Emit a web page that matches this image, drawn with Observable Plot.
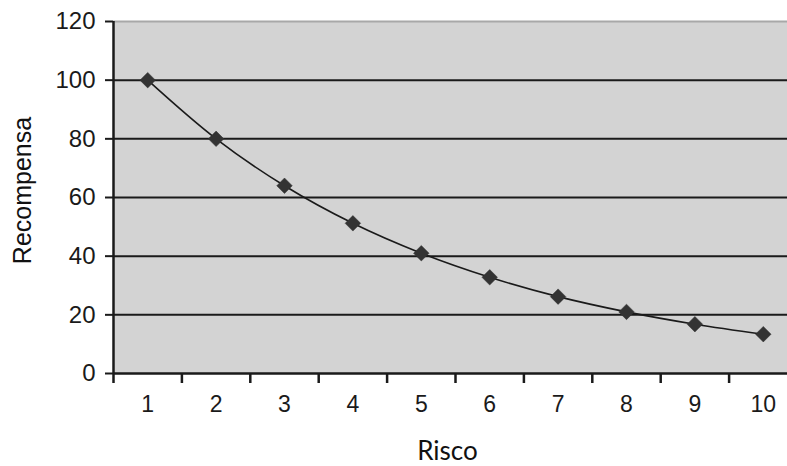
<!DOCTYPE html>
<html>
<head>
<meta charset="utf-8">
<script src="https://cdn.jsdelivr.net/npm/d3@7"></script>
<script src="https://cdn.jsdelivr.net/npm/@observablehq/plot@0.6"></script>
<style>
  html, body { margin: 0; padding: 0; background: #fff; }
  svg { display: block; }
</style>
</head>
<body>
<div id="chart"></div>
<script>
const risco = [1, 2, 3, 4, 5, 6, 7, 8, 9, 10];
const recompensa = [100, 80, 64, 51.2, 41, 32.8, 26.2, 21, 16.8, 13.4];
const yTicks = [0, 20, 40, 60, 80, 100, 120];
const xLabel = "Risco";
const yLabel = "Recompensa";

const data = risco.map((r, i) => ({ x: r, y: recompensa[i] }));
const bandEdges = d3.range(0.5, 11, 1);
const font = "'Liberation Sans', Arial, sans-serif";
const ink = "#1a1a1a";

const chart = Plot.plot({
  width: 787,
  height: 466,
  marginLeft: 113,
  marginRight: -10,
  marginTop: 21,
  marginBottom: 93,
  style: { fontFamily: font, background: "#fff", color: ink },
  x: { domain: [0.5, 10.5], axis: null },
  y: { domain: [0, 120], axis: null },
  marks: [
    Plot.frame({ fill: "#d3d3d3", stroke: null }),
    Plot.ruleY([120], { stroke: "#a8a8a8", strokeWidth: 2 }),
    Plot.ruleY(yTicks.filter(d => d > 0 && d < 120), { stroke: ink, strokeWidth: 2 }),
    Plot.axisY(yTicks, { tickSize: 8, tickPadding: 10, fontSize: 24, strokeWidth: 2, stroke: ink, fill: ink, label: null }),
    Plot.axisX(bandEdges, { tickSize: 10, tickFormat: () => "", strokeWidth: 2.5, stroke: ink, label: null }),
    Plot.axisX(risco, { tickSize: 0, tickPadding: 22, fontSize: 23, fill: ink, label: null }),
    Plot.ruleX([0.5], { stroke: ink, strokeWidth: 2.5 }),
    Plot.ruleY([0], { stroke: ink, strokeWidth: 2.5 }),
    Plot.line(data, { x: "x", y: "y", curve: "catmull-rom", stroke: ink, strokeWidth: 1.6 }),
    Plot.dot(data, { x: "x", y: "y", symbol: "diamond2", r: 7, fill: "#333", stroke: "#333", strokeWidth: 0.5 }),
    Plot.text([xLabel], { frameAnchor: "bottom", text: d => d, dx: -8, dy: 86, fontSize: 26,
      fill: "#111", fontFamily: "Lato, 'Open Sans', sans-serif" }),
    Plot.text([yLabel], { frameAnchor: "left", textAnchor: "middle", text: d => d, rotate: -90, dx: -91, dy: -7, fontSize: 25,
      fill: "#111", fontFamily: font })
  ]
});
document.getElementById("chart").appendChild(chart);
</script>
</body>
</html>
